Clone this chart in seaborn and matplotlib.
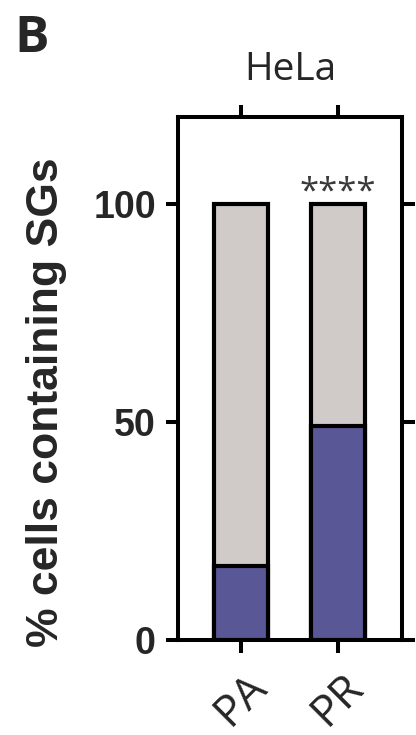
import matplotlib
matplotlib.use("Agg")
import matplotlib.pyplot as plt
import seaborn as sns
import pandas as pd

groups = ["PA", "PR"]
sg_positive = [17, 49]
total = [100, 100]
y_ticks = [0, 50, 100]
title = "HeLa"
panel = "B"
signif = "****"
ylabel = "% cells containing SGs"

sns.set_theme(style="ticks")
plt.rcParams['font.family'] = ['Liberation Sans', 'DejaVu Sans']

df = pd.DataFrame({"group": groups, "sg": sg_positive, "total": total})

W, H = 416, 735
fig = plt.figure(figsize=(W / 100, H / 100), dpi=100)
ax = fig.add_axes([178 / W, 95 / H, 224 / W, 523 / H])

grey = "#D0CBC9"
blue = "#5A5797"
lw = 3.0
bw = 0.56
sns.barplot(data=df, x="group", y="total", color=grey, edgecolor="black",
            linewidth=lw, width=bw, saturation=1, errorbar=None, ax=ax, zorder=2)
sns.barplot(data=df, x="group", y="sg", color=blue, edgecolor="black",
            linewidth=lw, width=bw, saturation=1, errorbar=None, ax=ax, zorder=3)

ax.set_xlim(-0.65, 1.66)
ax.set_ylim(0, 120)
ax.set_yticks(y_ticks)
ax.set_yticklabels([str(t) for t in y_ticks], fontsize=27, fontweight="bold",
                   family=["Liberation Sans", "DejaVu Sans"])
ax.set_xticks(range(len(groups)))
ax.set_xticklabels(groups, rotation=45, ha="center", va="top",
                   fontsize=32, family=["Open Sans", "DejaVu Sans"])
ax.set_xlabel("")
for s in ax.spines.values():
    s.set_visible(True)
    s.set_linewidth(2.9)
    s.set_color("black")
ax.tick_params(axis="both", direction="out", length=9, width=2.9, color="black",
               top=True, right=True, labeltop=False, labelright=False)
ax.tick_params(axis="y", pad=7)
ax.tick_params(axis="x", pad=9)

ax.set_ylabel(ylabel, fontsize=32, fontweight="bold", va="center",
              family=["Liberation Sans", "DejaVu Sans"])
ax.yaxis.set_label_coords(-0.589, 0.455)

ax.set_title(title, fontsize=28, family=["Open Sans", "DejaVu Sans"], pad=27)

ax.annotate(signif, xy=(1, 100), xytext=(0, -4), textcoords="offset points",
            ha="center", va="bottom", fontsize=25, color="#3a3a3a",
            family=["Open Sans", "DejaVu Sans"])

fig.text(14 / W, 1 - 14 / H, panel, fontsize=37, fontweight="bold", ha="left", va="top",
         family=["Open Sans", "DejaVu Sans"])

fig.savefig("out.png", dpi=100)
